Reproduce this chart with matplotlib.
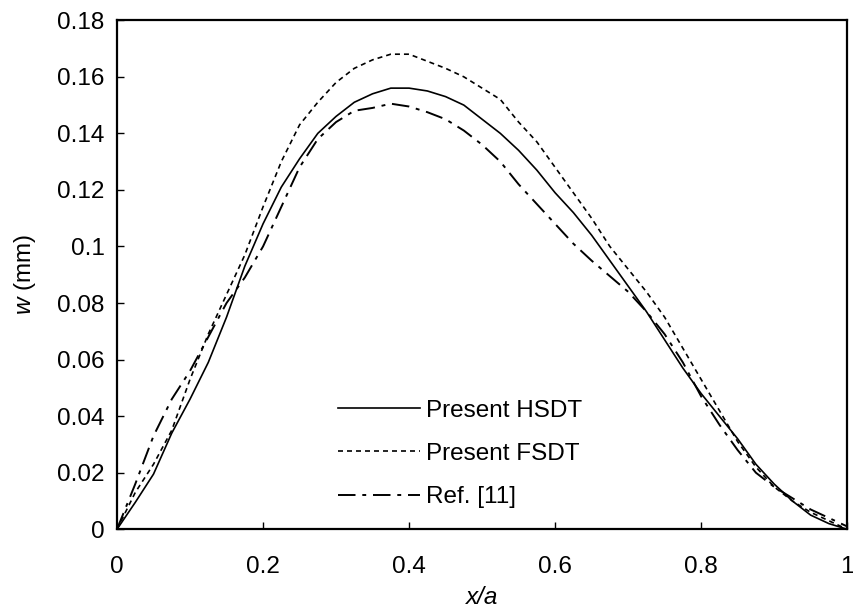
import matplotlib.pyplot as plt
import numpy as np

plt.rcParams['font.family'] = ['Liberation Sans', 'DejaVu Sans']
plt.rcParams['mathtext.fontset'] = 'custom'
plt.rcParams['mathtext.it'] = 'Liberation Sans:italic'
plt.rcParams['mathtext.rm'] = 'Liberation Sans'

# x/a positions (common grid)
x_a = np.round(np.arange(0, 1.0001, 0.025), 3)

# deflection w (mm)
w_hsdt = [0, 0.0095, 0.0195, 0.034, 0.046, 0.059, 0.075, 0.093, 0.108, 0.121,
          0.131, 0.140, 0.146, 0.151, 0.154, 0.156, 0.156, 0.155, 0.153, 0.150,
          0.145, 0.140, 0.134, 0.127, 0.119, 0.112, 0.104, 0.095, 0.086, 0.077,
          0.067, 0.057, 0.048, 0.040, 0.032, 0.023, 0.016, 0.010, 0.005, 0.002, 0]
w_fsdt = [0, 0.013, 0.023, 0.035, 0.053, 0.069, 0.083, 0.097, 0.114, 0.130,
          0.143, 0.151, 0.158, 0.163, 0.166, 0.168, 0.168, 0.1655, 0.163, 0.160,
          0.156, 0.152, 0.144, 0.137, 0.128, 0.119, 0.110, 0.100, 0.092, 0.084,
          0.075, 0.064, 0.053, 0.042, 0.031, 0.022, 0.015, 0.010, 0.006, 0.003, 0]
w_ref11 = [0, 0.016, 0.033, 0.046, 0.056, 0.068, 0.080, 0.089, 0.100, 0.114,
           0.128, 0.138, 0.144, 0.148, 0.149, 0.1505, 0.1495, 0.1475, 0.145, 0.141,
           0.136, 0.130, 0.122, 0.115, 0.108, 0.101, 0.095, 0.0895, 0.084, 0.077,
           0.069, 0.059, 0.047, 0.037, 0.028, 0.020, 0.015, 0.011, 0.007, 0.004, 0.001]

fs = 17.5

fig = plt.figure(figsize=(8.54, 6.14), dpi=100)
ax = fig.add_axes([0.137, 0.138, 0.855, 0.829])

ax.plot(x_a, w_hsdt, color='black', lw=1.2, ls='-', label='Present HSDT')
ax.plot(x_a, w_fsdt, color='black', lw=1.2, dashes=(3.0, 2.4), label='Present FSDT')
ax.plot(x_a, w_ref11, color='black', lw=1.4, dashes=(9, 3.5, 2, 3.5), label='Ref. [11]')

ax.set_xlim(0, 1)
ax.set_ylim(0, 0.18)
ax.set_xticks(np.arange(0, 1.01, 0.2))
ax.set_xticklabels(['0', '0.2', '0.4', '0.6', '0.8', '1'])
ax.set_yticks(np.arange(0, 0.181, 0.02))
ax.set_yticklabels(['0', '0.02', '0.04', '0.06', '0.08', '0.1', '0.12', '0.14', '0.16', '0.18'])
ax.tick_params(direction='in', length=5, width=1, labelsize=fs)
ax.tick_params(axis='x', pad=19)
ax.tick_params(axis='y', pad=9)
for s in ax.spines.values():
    s.set_linewidth(1.6)

ax.set_xlabel('x/a', fontsize=fs, style='italic', labelpad=6)
ax.set_ylabel('$\\mathit{w}$ (mm)', fontsize=fs, labelpad=14)

ax.legend(loc='center left', bbox_to_anchor=(0.303, 0.148), frameon=False,
          fontsize=fs, handlelength=3.35, handletextpad=0.25, labelspacing=0.88,
          borderpad=0, borderaxespad=0)

fig.savefig('out.png', dpi=100)
